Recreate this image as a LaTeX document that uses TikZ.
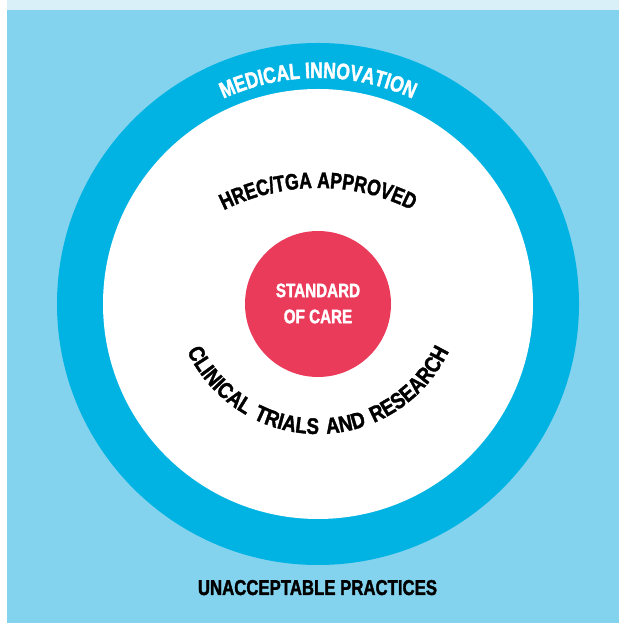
\documentclass[tikz,border=0pt]{standalone}
\usepackage{fontspec}
\usetikzlibrary{decorations.text}
\newfontfamily\condf[FakeStretch=0.78,FakeBold=1.6]{Liberation Sans}
\newfontfamily\condw[FakeStretch=0.84,FakeBold=1.6,WordSpace=1.5]{Liberation Sans}
\definecolor{bgblue}{HTML}{83D3EE}
\definecolor{ringblue}{HTML}{00B3E3}
\definecolor{stripblue}{HTML}{DAF0F8}
\definecolor{carered}{HTML}{EB3B5A}
\tikzset{
  disc/.style={circle, inner sep=0pt, draw=none},
  arctext/.style={decorate, decoration={text along path, text align=center}},
}
\begin{document}
\begin{tikzpicture}[x=1pt,y=1pt]
\useasboundingbox (0,0) rectangle (619,623);
\fill[white] (0,0) rectangle (619,623);
\fill[bgblue] (7,0) rectangle (619,612.5);
\fill[stripblue] (7,612.5) rectangle (619,623);
\node[disc, fill=ringblue, minimum size=522pt] (outer) at (318,319) {};
\node[disc, fill=white, minimum size=430pt] (inner) at (318,319) {};
\node[disc, fill=carered, minimum size=146pt] (core) at (318,319) {};
\node[text=white, align=center, font=\condf\bfseries\fontsize{19.5}{26}\selectfont] (care) at (318,319.5) {STANDARD\\OF CARE};
\path[arctext, decoration={text color=white, text={|\condf\bfseries\fontsize{22.5}{24}\selectfont|MEDICAL INNOVATION}}]
  (318,319) ++(150:226) arc[start angle=150, end angle=30, radius=226];
\path[arctext, decoration={text color=black, text={|\condf\bfseries\fontsize{22.5}{24}\selectfont|HREC/TGA APPROVED}}]
  (318,225) ++(150:210) arc[start angle=150, end angle=30, radius=210];
\path[arctext, decoration={text color=black, text={|\condw\bfseries\fontsize{22.5}{24}\selectfont|CLINICAL TRIALS AND RESEARCH}}]
  (318,334) ++(185:145) arc[start angle=185, end angle=355, radius=145];
\node[anchor=base, font=\condf\bfseries\fontsize{21.5}{24}\selectfont] (bad) at (317.5,28) {UNACCEPTABLE PRACTICES};
\end{tikzpicture}
\end{document}
